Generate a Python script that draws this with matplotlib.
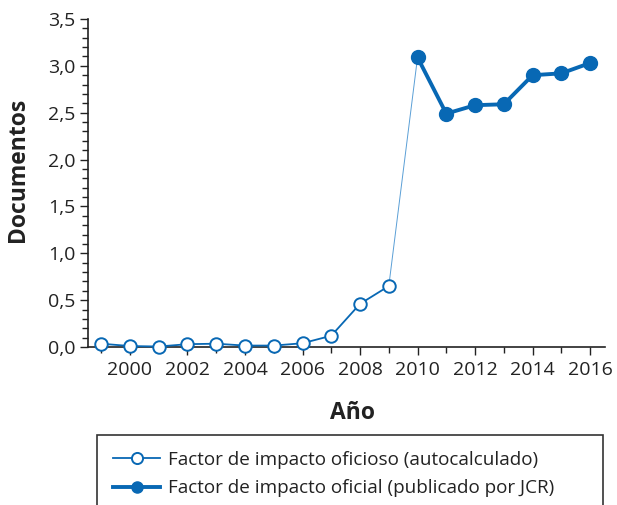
import matplotlib
matplotlib.use("Agg")
import matplotlib.pyplot as plt
from matplotlib.patches import Rectangle
from matplotlib.ticker import MultipleLocator, FuncFormatter

plt.rcParams['font.family'] = ['Open Sans', 'DejaVu Sans']

# Data
years_calc = [1999, 2000, 2001, 2002, 2003, 2004, 2005, 2006, 2007, 2008, 2009]
fi_calc = [0.035, 0.01, 0.005, 0.03, 0.035, 0.015, 0.015, 0.04, 0.12, 0.46, 0.65]
years_jcr = [2010, 2011, 2012, 2013, 2014, 2015, 2016]
fi_jcr = [3.09, 2.49, 2.58, 2.59, 2.90, 2.92, 3.03]

label_calc = "Factor de impacto oficioso (autocalculado)"
label_jcr = "Factor de impacto oficial (publicado por JCR)"
blue = "#0868b4"
ink = "#222222"

fig = plt.figure(figsize=(6.17, 5.05), dpi=100)
ax = fig.add_axes([0.1426, 0.3129, 0.838, 0.6495])

# thin joining segment between the two series
ax.plot([years_calc[-1], years_jcr[0]], [fi_calc[-1], fi_jcr[0]],
        color="#5a9fd6", lw=0.7, zorder=1)
ax.plot(years_calc, fi_calc, color=blue, lw=1.3, marker='o', ms=9,
        mfc='white', mec=blue, mew=1.4, label=label_calc, zorder=3,
        clip_on=False)
ax.plot(years_jcr, fi_jcr, color=blue, lw=2.8, marker='o', ms=10,
        mfc=blue, mec=blue, label=label_jcr, zorder=3, clip_on=False)

ax.set_xlim(1998.54, 2016.52)
ax.set_ylim(0, 3.5)
ax.xaxis.set_major_locator(MultipleLocator(2))
ax.xaxis.set_minor_locator(MultipleLocator(1))
ax.yaxis.set_major_locator(MultipleLocator(0.5))
ax.yaxis.set_minor_locator(MultipleLocator(0.1))
ax.yaxis.set_major_formatter(FuncFormatter(lambda v, p: f"{v:.1f}".replace('.', ',')))

for s in ['top', 'right']:
    ax.spines[s].set_visible(False)
for s in ['left', 'bottom']:
    ax.spines[s].set_linewidth(1.2)
    ax.spines[s].set_color(ink)

ax.tick_params(axis='both', which='major', labelsize=14, length=6, width=1,
               color=ink, labelcolor=ink)
ax.tick_params(axis='both', which='minor', length=4, width=1, color=ink)
ax.tick_params(axis='x', pad=4)
ax.tick_params(axis='y', pad=3)

ax.set_xlabel("Año", fontsize=16.5, fontweight='bold', color=ink)
ax.set_ylabel("Documentos", fontsize=16.5, fontweight='bold', color=ink)
ax.xaxis.set_label_coords(0.511, -0.165)
ax.yaxis.set_label_coords(-0.112, 0.54)

# legend box runs off the bottom edge of the figure
fig.patches.append(Rectangle((97 / 617, -0.05), 506 / 617, 1 - 435 / 505 + 0.05,
                             transform=fig.transFigure, fill=False,
                             edgecolor='#333333', lw=1.2))
leg = fig.legend(loc='upper left', bbox_to_anchor=(113 / 617, 1 - 451 / 505),
                 fontsize=13.6, frameon=False, handlelength=2.5,
                 labelspacing=0.55, handletextpad=0.42, borderaxespad=0,
                 borderpad=0, labelcolor=ink)
for h in leg.legend_handles:
    h.set_markersize(8)

fig.savefig("out.png", dpi=100)
